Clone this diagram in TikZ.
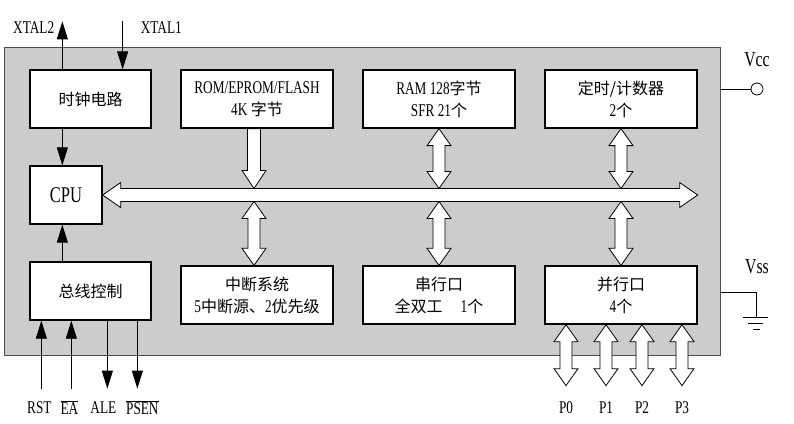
\documentclass[tikz,border=0pt]{standalone}
\usepackage{fontspec}
\setmainfont{Liberation Serif}[Scale=1.12,FakeStretch=0.74]
\newfontfamily\cjk{Noto Sans CJK SC}
\usetikzlibrary{calc,positioning,arrows.meta}

\tikzset{
  chipbox/.style={draw=black!70, fill=black!20, line width=0.8pt, inner sep=0pt},
  unit/.style={draw, line width=1.3pt, fill=white, minimum height=58pt, inner sep=0pt, align=center, font=\fontsize{16}{22}\selectfont},
  blockarrow/.style={draw, line width=0.8pt, fill=white, line join=miter},
  sig/.style={line width=0.8pt, -{Triangle[length=18pt,width=11pt]}},
  pin/.style={font=\fontsize{16}{18}\selectfont, inner sep=0pt},
}

% vertical double block arrow, #1 top end, #2 bottom end
\newcommand{\updown}[2]{%
  \draw[blockarrow] let \p1=#1, \p2=#2 in
    (\x1,\y1) -- (\x1+12pt,\y1-17pt) -- (\x1+6pt,\y1-17pt) -- (\x1+6pt,\y2+17pt) -- (\x1+12pt,\y2+17pt) -- (\x1,\y2)
    -- (\x1-12pt,\y2+17pt) -- (\x1-6pt,\y2+17pt) -- (\x1-6pt,\y1-17pt) -- (\x1-12pt,\y1-17pt) -- cycle;}

\begin{document}
\begin{tikzpicture}[x=1pt,y=1pt]
\useasboundingbox (0,0) rectangle (794,423);

\node[chipbox, minimum width=716pt, minimum height=308pt] (chip) at (362,222) {};

% units
\node[unit, minimum width=121pt] (clock) at (90.5,324) {\cjk 时钟电路};
\node[unit, minimum width=152pt] (rom) at (257,324) {ROM/EPROM/FLASH\\4K {\cjk 字节}};
\node[unit, minimum width=152pt] (ram) at (439,324) {RAM 128{\cjk 字节}\\SFR 21{\cjk 个}};
\node[unit, minimum width=152pt] (timer) at (621,324) {{\cjk 定时/计数器}\\2{\cjk 个}};
\node[unit, minimum width=72pt, font=\fontsize{20}{24}\selectfont] (cpu) at (66,228) {CPU};
\node[unit, minimum width=121pt] (busctl) at (90.5,132) {\cjk 总线控制};
\node[unit, minimum width=152pt] (irq) at (257,128) {{\cjk 中断系统}\\5{\cjk 中断源、}2{\cjk 优先级}};
\node[unit, minimum width=152pt] (uart) at (439,128) {{\cjk 串行口}\\{\cjk 全双工}\quad 1{\cjk 个}};
\node[unit, minimum width=152pt] (pio) at (621,128) {{\cjk 并行口}\\4{\cjk 个}};

% internal bus
\coordinate (busend) at (timer.east |- cpu.east);
\coordinate (bustop) at ($(cpu.east)+(0,6.5)$);
\coordinate (busbot) at ($(cpu.east)+(0,-6.5)$);
\draw[blockarrow] let \p1=(cpu.east), \p2=(busend) in
  (\x1,\y1) -- (\x1+18pt,\y1+12.5pt) -- (\x1+18pt,\y1+6.5pt) -- (\x2-18pt,\y1+6.5pt) -- (\x2-18pt,\y1+12.5pt) -- (\x2,\y1)
  -- (\x2-18pt,\y1-12.5pt) -- (\x2-18pt,\y1-6.5pt) -- (\x1+18pt,\y1-6.5pt) -- (\x1+18pt,\y1-12.5pt) -- cycle;

% rom -> bus
\draw[blockarrow] let \p1=($(rom.south)+(-3,0)$), \p2=(bustop) in
  (\x1-6.5pt,\y1) -- (\x1+6.5pt,\y1) -- (\x1+6.5pt,\y2+18pt) -- (\x1+12pt,\y2+18pt) -- (\x1,\y2)
  -- (\x1-12pt,\y2+18pt) -- (\x1-6.5pt,\y2+18pt) -- cycle;
\updown{(ram.south)}{(ram.south |- bustop)}
\updown{(timer.south)}{(timer.south |- bustop)}
\updown{($(irq.north |- busbot)+(-3,0)$)}{($(irq.north)+(-3,0)$)}
\updown{(uart.north |- busbot)}{(uart.north)}
\updown{(pio.north |- busbot)}{(pio.north)}

% ports
\foreach \dx [count=\i from 0] in {-55,-15,21,61} {
  \updown{($(pio.south)+(\dx,0)$)}{($(pio.south)+(\dx,-61)$)}
  \node[pin] (p\i) at ($(pio.south)+(\dx,-83)$) {P\i};
}

% clock and control lines
\coordinate (xtal2) at ($(clock.north west)+(33,48)$);
\coordinate (xtal1) at ($(clock.north east)+(-29,48)$);
\draw[sig] (clock.north -| xtal2) -- (xtal2);
\draw[sig] (xtal1) -- (clock.north -| xtal1);
\node[pin, anchor=east] (lxtal2) at ($(xtal2)+(-8,-6)$) {XTAL2};
\node[pin, anchor=west] (lxtal1) at ($(xtal1)+(18,-6)$) {XTAL1};
\draw[sig] (clock.south -| xtal2) -- (cpu.north -| xtal2);
\draw[sig] (busctl.north -| xtal2) -- (cpu.south -| xtal2);

\coordinate (rst) at ($(busctl.south west)+(12,-68)$);
\coordinate (ea) at ($(busctl.south west)+(42,-68)$);
\coordinate (ale) at ($(busctl.south west)+(78,-68)$);
\coordinate (psen) at ($(busctl.south west)+(108,-68)$);
\draw[sig] (rst) -- (busctl.south -| rst);
\draw[sig] (ea) -- (busctl.south -| ea);
\draw[sig] (busctl.south -| ale) -- (ale);
\draw[sig] (busctl.south -| psen) -- (psen);
\node[pin] (lrst) at ($(rst)+(-2,-19)$) {RST};
\node[pin] (lea) at ($(ea)+(-2,-19)$) {$\overline{\hbox{EA}}$};
\node[pin] (lale) at ($(ale)+(-4,-19)$) {ALE};
\node[pin] (lpsen) at ($(psen)+(5,-19)$) {$\overline{\hbox{PSEN}}$};

% power
\node[draw, circle, minimum size=12pt, inner sep=0pt, line width=0.8pt] (vcc) at (757,334) {};
\draw[line width=0.8pt] (chip.east |- vcc) -- (vcc.west);
\node[pin, font=\fontsize{19}{20}\selectfont] (lvcc) at (757,363) {Vcc};
\coordinate (gnd) at (756,106);
\draw[line width=0.8pt] (chip.east |- 0,131) -| (gnd);
\draw[line width=0.8pt] ($(gnd)+(-13,0)$) -- ($(gnd)+(12,0)$);
\draw[line width=0.8pt] ($(gnd)+(-8,-6)$) -- ($(gnd)+(7,-6)$);
\draw[line width=0.8pt] ($(gnd)+(-3,-12)$) -- ($(gnd)+(4,-12)$);
\node[pin, font=\fontsize{19}{20}\selectfont] (lvss) at (757,156) {Vss};
\end{tikzpicture}
\end{document}
